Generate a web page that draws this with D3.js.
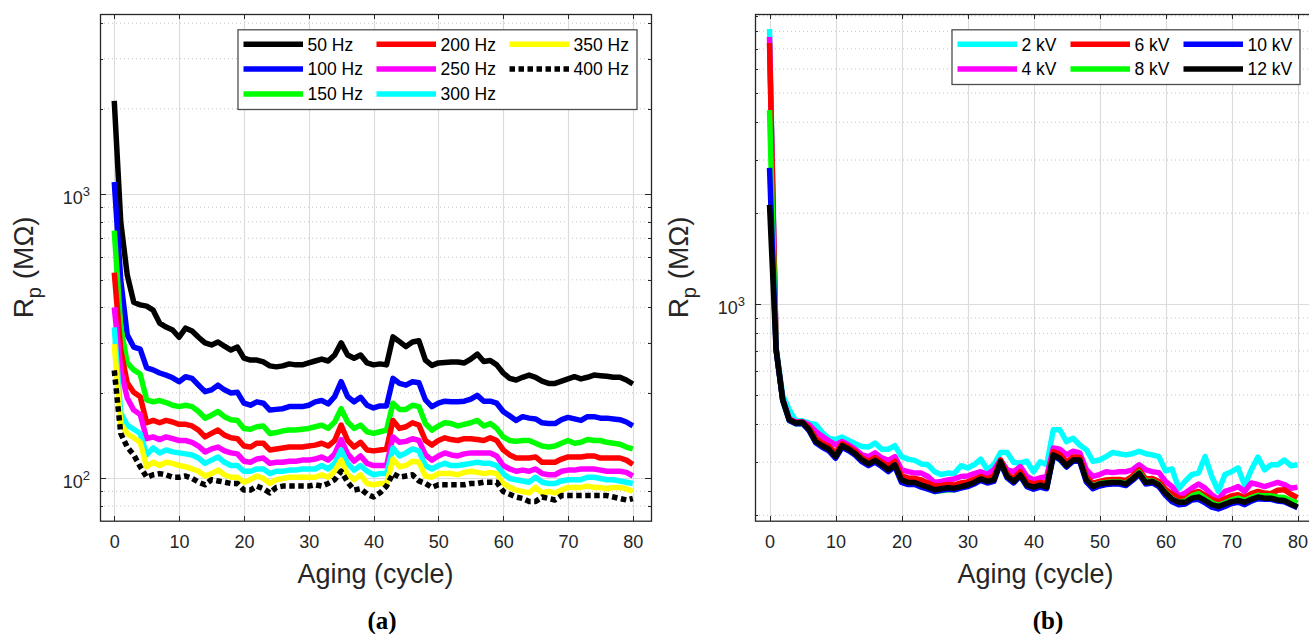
<!DOCTYPE html>
<meta charset="utf-8">
<head>
	<script src="https://d3js.org/d3.v7.min.js"></script>
	<style>
		body {
			margin: 0;
			background: #fff;
		}
		svg {
			display: block;
			font-family: "Liberation Sans", Arial, sans-serif;
		}
		.axis path {
			display: none;
		}
		.axis line {
			stroke: #262626;
			shape-rendering: crispEdges;
		}
		.axis text {
			fill: #262626;
			font-size: 18px;
		}
	</style>
</head>

<body>
	<div id="chart"></div>
</body>

<script type="text/javascript">
	// aging cycles on the x axis
	var cycles = [0,1,2,3,4,5,6,7,8,9,10,11,12,13,14,15,16,17,18,19,20,21,22,23,24,25,26,27,28,29,30,
		31,32,33,34,35,36,37,38,39,40,41,42,43,44,45,46,47,48,49,50,51,52,53,54,55,56,57,58,59,60,
		61,62,63,64,65,66,67,68,69,70,71,72,73,74,75,76,77,78,79,80];
	var xTicks = [0, 10, 20, 30, 40, 50, 60, 70, 80];

	// (a) Rp (MOhm) at different frequencies
	var hz50 = [2130,800,520,417,408,404,391,352,341,333,
		314,338,330,314,300,295,302,292,283,290,
		265,261,261,257,249,247,249,253,251,251,
		255,259,263,259,272,300,272,265,272,255,
		251,253,251,315,303,291,302,305,261,250,
		255,256,257,257,255,263,274,258,260,251,
		235,225,222,227,231,227,220,216,216,220,
		224,228,224,227,231,230,229,227,227,222,215];
	var hz100 = [1105,499,320,290,285,245,241,235,231,226,
		219,228,225,213,202,205,213,205,200,201,
		184,181,186,184,174,175,176,179,179,179,
		181,186,188,183,194,219,194,186,193,181,
		177,180,180,225,216,213,219,217,189,179,
		184,187,186,186,187,190,196,187,187,184,
		172,166,160,165,163,162,157,156,156,161,
		164,162,160,165,165,163,163,162,161,158,153];
	var hz150 = [745,341,255,241,233,189,186,188,185,181,
		179,181,179,172,163,167,172,165,161,160,
		150,149,152,153,144,145,147,148,148,149,
		150,152,154,150,158,176,158,150,154,146,
		144,146,148,184,175,175,181,179,156,148,
		153,157,156,153,155,157,160,153,156,150,
		140,136,135,136,136,133,130,129,130,133,
		136,133,134,137,136,136,134,133,132,129,127];
	var hz200 = [530,283,217,201,194,157,160,157,160,158,
		155,155,153,148,140,144,148,142,139,138,
		130,129,133,133,126,127,128,129,129,129,
		130,131,133,130,136,154,136,129,134,126,
		125,126,127,160,150,152,157,154,136,131,
		136,139,137,136,138,138,137,136,139,136,
		126,121,118,118,118,119,114,114,114,117,
		119,119,119,120,120,118,118,118,118,116,112];
	var hz250 = [400,241,192,174,168,138,140,137,140,138,
		136,136,134,130,124,127,129,125,123,122,
		115,114,117,118,113,114,114,115,115,116,
		116,117,119,116,122,137,122,115,120,113,
		111,111,111,140,134,135,138,136,121,116,
		120,123,121,120,122,123,123,123,123,120,
		111,108,106,107,106,108,104,103,103,106,
		107,107,108,108,108,107,106,106,106,105,102];
	var hz300 = [340,170,154,149,144,121,128,123,126,124,
		123,122,121,118,113,116,119,114,111,111,
		106,106,108,108,104,106,106,107,107,108,
		108,108,111,108,113,126,113,107,111,106,
		103,104,104,128,120,123,127,125,111,108,
		111,113,111,111,112,113,114,113,113,111,
		104,100,99,98,97,101,97,96,96,98,
		99,99,99,101,101,100,99,99,98,97,96];
	var hz350 = [297,156,144,139,134,110,114,111,114,113,
		111,110,108,106,102,104,107,103,101,101,
		97,99,102,100,96,99,100,101,101,101,
		101,101,103,101,106,116,103,99,103,96,
		95,96,96,117,110,111,115,114,102,101,
		104,104,104,103,105,106,105,104,105,104,
		96,93,91,90,89,93,89,90,89,91,
		93,93,93,94,93,93,92,93,93,92,90];
	var hz400 = [240,144,129,121,110,101,103,104,103,101,
		101,102,100,97,95,99,98,97,96,96,
		91,91,94,92,89,93,94,94,94,94,
		94,95,94,96,99,106,97,91,92,88,
		86,89,94,104,101,102,103,98,96,93,
		95,95,95,95,95,96,96,97,97,97,
		90,88,86,85,83,83,86,85,84,87,
		87,87,87,87,87,87,87,86,85,84,85];

	// (b) Rp (MOhm) at different voltages
	var kv2 = [8140,720,500,447,411,411,404,400,376,360,
		356,363,354,345,338,337,347,331,331,340,
		313,307,304,296,294,279,273,276,275,292,
		287,294,307,283,294,323,323,299,298,302,
		279,301,294,384,384,351,360,342,330,302,
		305,313,323,320,317,320,326,320,317,313,
		281,285,245,260,273,276,313,269,240,273,
		279,287,251,283,312,283,294,294,305,292,294];
	var kv4 = [7660,712,485,417,408,408,399,379,365,353,
		342,351,342,331,317,313,322,310,304,313,
		283,279,276,276,269,257,259,262,264,269,
		270,275,279,273,283,305,283,279,290,269,
		262,266,269,334,331,317,326,322,283,269,
		273,279,277,279,279,283,294,283,279,277,
		259,249,232,237,246,254,246,234,226,240,
		244,249,240,256,253,249,253,257,253,246,248];
	var kv6 = [7320,710,484,415,406,407,390,360,347,338,
		322,345,336,325,310,302,311,300,291,302,
		270,266,265,262,256,250,251,253,252,256,
		258,263,269,264,270,305,274,265,279,258,
		254,257,255,325,318,300,312,311,268,255,
		259,262,263,263,261,270,283,264,265,259,
		244,235,228,227,236,240,233,226,222,227,
		232,234,229,236,240,237,236,242,243,235,229];
	var kv8 = [4390,708,480,412,402,403,383,350,338,330,
		313,339,330,318,303,294,302,292,281,293,
		259,255,255,250,245,240,241,243,243,247,
		250,255,263,258,261,300,268,258,271,250,
		246,250,247,316,306,290,303,304,262,250,
		255,257,258,258,255,265,278,259,260,253,
		238,227,221,223,232,236,228,220,216,220,
		225,228,224,229,233,232,232,230,229,224,220];
	var kv10 = [2825,705,480,412,402,403,381,348,336,327,
		309,336,327,316,301,292,300,290,279,290,
		257,253,253,248,244,240,242,244,243,246,
		249,254,261,256,259,299,266,256,270,249,
		244,248,245,314,306,289,302,302,258,245,
		250,253,254,254,251,261,273,254,256,249,
		233,222,217,218,225,226,220,213,210,214,
		219,221,217,223,227,226,226,223,222,217,212];
	var kv12 = [2130,706,482,414,404,406,384,351,340,331,
		313,340,331,320,305,296,304,294,283,294,
		262,257,257,252,248,243,245,247,246,249,
		252,257,264,259,262,301,269,259,272,252,
		248,252,248,317,309,292,305,305,262,249,
		254,256,257,257,254,264,276,257,259,252,
		237,226,221,221,228,230,224,217,214,218,
		222,224,221,226,230,228,228,225,224,218,213];

	var freqSeries = [
		{ name: "50 Hz", values: hz50, color: "#000000" },
		{ name: "100 Hz", values: hz100, color: "#0000ff" },
		{ name: "150 Hz", values: hz150, color: "#00ff00" },
		{ name: "200 Hz", values: hz200, color: "#ff0000" },
		{ name: "250 Hz", values: hz250, color: "#ff00ff" },
		{ name: "300 Hz", values: hz300, color: "#00ffff" },
		{ name: "350 Hz", values: hz350, color: "#ffff00" },
		{ name: "400 Hz", values: hz400, color: "#000000", dotted: true }
	];
	var voltSeries = [
		{ name: "2 kV", values: kv2, color: "#00ffff" },
		{ name: "4 kV", values: kv4, color: "#ff00ff" },
		{ name: "6 kV", values: kv6, color: "#ff0000" },
		{ name: "8 kV", values: kv8, color: "#00ff00" },
		{ name: "10 kV", values: kv10, color: "#0000ff" },
		{ name: "12 kV", values: kv12, color: "#000000" }
	];

	var xDomain = [-2.2, 82.8];

	var svg = d3.select("#chart").append("svg")
		.attr("width", 1309)
		.attr("height", 634);

	svg.append("rect")
		.attr("width", 1309)
		.attr("height", 634)
		.style("fill", "#fff");

	function logTicks(domain, minor) {
		var out = [];
		[10, 100, 1000].forEach(function(d) {
			if (minor) {
				for (var m = 2; m <= 9; m++) {
					if (m * d >= domain[0] && m * d <= domain[1]) out.push(m * d);
				}
			} else if (d >= domain[0] && d <= domain[1]) {
				out.push(d);
			}
		});
		return out;
	}

	function drawPanel(p) {
		var x = d3.scaleLinear().domain(xDomain).range([p.left, p.right]);
		var y = d3.scaleLog().domain(p.yDomain).range([p.bottom, p.top]);
		var major = logTicks(p.yDomain, false);
		var minor = logTicks(p.yDomain, true);

		var g = svg.append("g");

		svg.append("clipPath")
			.attr("id", "clip_" + p.id)
			.append("rect")
			.attr("x", p.left)
			.attr("y", p.top)
			.attr("width", p.right - p.left)
			.attr("height", p.bottom - p.top);

		// grid
		g.selectAll(".minor_grid")
			.data(minor)
			.enter().append("line")
			.attr("x1", p.left).attr("x2", p.right)
			.attr("y1", function(d) { return y(d); })
			.attr("y2", function(d) { return y(d); })
			.style("stroke", "#c4c4c4")
			.style("stroke-width", 1)
			.style("stroke-dasharray", "1,3");

		g.selectAll(".major_grid")
			.data(major)
			.enter().append("line")
			.attr("x1", p.left).attr("x2", p.right)
			.attr("y1", function(d) { return Math.round(y(d)) + 0.5; })
			.attr("y2", function(d) { return Math.round(y(d)) + 0.5; })
			.style("stroke", "#dcdcdc")
			.style("stroke-width", 1.2);

		g.selectAll(".x_grid")
			.data(xTicks)
			.enter().append("line")
			.attr("x1", function(d) { return Math.round(x(d)) + 0.5; })
			.attr("x2", function(d) { return Math.round(x(d)) + 0.5; })
			.attr("y1", p.top).attr("y2", p.bottom)
			.style("stroke", "#dcdcdc")
			.style("stroke-width", 1.2);

		// data lines
		var line = d3.line()
			.x(function(d, i) { return x(cycles[i]); })
			.y(function(d) { return y(d); });

		g.append("g")
			.attr("clip-path", "url(#clip_" + p.id + ")")
			.selectAll("path")
			.data(p.series)
			.enter().append("path")
			.attr("d", function(d) { return line(d.values); })
			.style("fill", "none")
			.style("stroke", function(d) { return d.color; })
			.style("stroke-width", 5.5)
			.style("stroke-linejoin", "round")
			.style("stroke-dasharray", function(d) { return d.dotted ? "5.5,3.5" : null; });

		// axes, ticks pointing inward
		g.append("g")
			.attr("class", "axis")
			.attr("transform", "translate(0," + p.bottom + ")")
			.call(d3.axisBottom(x).tickValues(xTicks).tickSizeInner(-5).tickSizeOuter(0).tickPadding(15));

		g.append("g")
			.attr("class", "axis")
			.attr("transform", "translate(0," + p.top + ")")
			.call(d3.axisTop(x).tickValues(xTicks).tickSizeInner(-5).tickSizeOuter(0).tickFormat(""));

		[[d3.axisLeft, p.left], [d3.axisRight, p.right]].forEach(function(a) {
			g.append("g")
				.attr("class", "axis")
				.attr("transform", "translate(" + a[1] + ",0)")
				.call(a[0](y).tickValues(major).tickSizeInner(-6).tickSizeOuter(0).tickFormat(""));
			g.append("g")
				.attr("class", "axis")
				.attr("transform", "translate(" + a[1] + ",0)")
				.call(a[0](y).tickValues(minor).tickSizeInner(-3).tickSizeOuter(0).tickFormat(""));
		});

		g.append("rect")
			.attr("x", p.left + 0.5)
			.attr("y", p.top + 0.5)
			.attr("width", p.right - p.left)
			.attr("height", p.bottom - p.top)
			.style("fill", "none")
			.style("stroke", "#262626")
			.style("stroke-width", 1.3);

		// decade labels 10^n
		var ylab = g.selectAll(".ylab")
			.data(major)
			.enter().append("text")
			.attr("x", p.left - 10)
			.attr("y", function(d) { return y(d) + 10; })
			.style("text-anchor", "end")
			.style("font-size", "18px")
			.style("fill", "#262626");
		ylab.append("tspan").text("10");
		ylab.append("tspan")
			.attr("dy", -8)
			.style("font-size", "13px")
			.text(function(d) { return Math.round(Math.log10(d)); });

		// axis titles
		var yt = g.append("text")
			.attr("transform", "translate(" + (p.left - 67) + "," + ((p.top + p.bottom) / 2) + ")rotate(-90)")
			.style("text-anchor", "middle")
			.style("font-size", "28px")
			.style("fill", "#262626");
		yt.append("tspan").text("R");
		yt.append("tspan").attr("dy", 8).style("font-size", "20px").text("p");
		yt.append("tspan").attr("dy", -8).text(" (M\u03A9)");

		g.append("text")
			.attr("x", (p.left + p.right) / 2)
			.attr("y", 583)
			.style("text-anchor", "middle")
			.style("font-size", "27px")
			.style("fill", "#262626")
			.text("Aging (cycle)");

		g.append("text")
			.attr("x", p.labelX)
			.attr("y", 629)
			.style("text-anchor", "middle")
			.style("font-family", "'Liberation Serif', 'Times New Roman', serif")
			.style("font-weight", "bold")
			.style("font-size", "25px")
			.style("fill", "#000")
			.text(p.label);

		// legend
		var L = p.legend;
		var lg = g.append("g");
		lg.append("rect")
			.attr("x", L.x + 0.5).attr("y", L.y + 0.5)
			.attr("width", L.w).attr("height", L.h)
			.style("fill", "#fff")
			.style("stroke", "#4d4d4d")
			.style("stroke-width", 1.3);

		var item = lg.selectAll(".item")
			.data(p.series)
			.enter().append("g")
			.attr("transform", function(d, i) {
				var col = Math.floor(i / L.rows), row = i % L.rows;
				return "translate(" + (L.x + 6 + col * L.colW) + "," + (L.y + 15 + row * 24.8) + ")";
			});

		item.append("line")
			.attr("x1", 0).attr("x2", 59.5)
			.style("stroke", function(d) { return d.color; })
			.style("stroke-width", 5.5)
			.style("stroke-dasharray", function(d) { return d.dotted ? "5.5,3.5" : null; });

		item.append("text")
			.attr("x", 64)
			.attr("dy", "0.36em")
			.style("font-size", "17.5px")
			.style("fill", "#000")
			.text(function(d) { return d.name; });
	}

	drawPanel({
		id: "a", left: 100, right: 651, top: 14, bottom: 520.7,
		yDomain: [71, 4310], series: freqSeries,
		label: "(a)", labelX: 382,
		legend: { x: 237.5, y: 29.3, w: 399, h: 79.7, rows: 3, colW: 133 }
	});

	drawPanel({
		id: "b", left: 755, right: 1316, top: 14, bottom: 520.7,
		yDomain: [192, 9130], series: voltSeries,
		label: "(b)", labelX: 1048,
		legend: { x: 951.5, y: 29.3, w: 348, h: 54.7, rows: 2, colW: 113 }
	});
</script>
